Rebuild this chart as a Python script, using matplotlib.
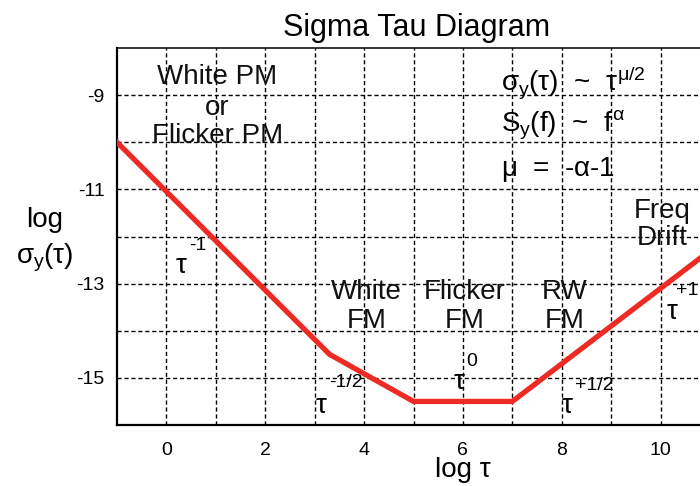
import numpy as np
import matplotlib
matplotlib.use("Agg")
import matplotlib.pyplot as plt

plt.rcParams['font.family'] = ['Liberation Sans', 'DejaVu Sans']
plt.rcParams['mathtext.fontset'] = 'custom'
plt.rcParams['mathtext.rm'] = 'Liberation Sans'
plt.rcParams['mathtext.it'] = 'Liberation Sans'
plt.rcParams['mathtext.bf'] = 'Liberation Sans:bold'
plt.rcParams['axes.unicode_minus'] = False

# piecewise sigma-tau curve (log tau, log sigma)
curve_x = [-1, 3.3, 5, 7, 11]
curve_y = [-10, -14.5, -15.5, -15.5, -12.3]

x_ticks = [0, 2, 4, 6, 8, 10]
y_ticks = [-9, -11, -13, -15]

# noise region labels: (text, x, y)
region_labels = [
    ("White PM", 1.03, -8.62),
    ("or", 1.03, -9.27),
    ("Flicker PM", 1.03, -9.87),
    ("White", 4.05, -13.17),
    ("FM", 4.05, -13.79),
    ("Flicker", 6.03, -13.17),
    ("FM", 6.03, -13.79),
    ("RW", 8.06, -13.17),
    ("FM", 8.06, -13.79),
    ("Freq", 10.04, -11.45),
    ("Drift", 10.04, -12.04),
]

# slope labels: (exponent, tau x, tau y, exp x, exp y)
slope_labels = [
    ("-1", 0.30, -12.62, 0.63, -12.19),
    ("-1/2", 3.12, -15.60, 3.64, -15.09),
    ("0", 5.93, -15.09, 6.17, -14.66),
    ("+1/2", 8.10, -15.60, 8.66, -15.17),
]
last_tau = ("+1", 10.24, -13.60, 10.32, -13.15)

formulas = [
    r"$\sigma_{y}(\tau)$  ~  $\tau^{\mu/2}$",
    r"$S_{y}(f)$  ~  $f^{\alpha}$",
    r"$\mu$  =  -$\alpha$-1",
]
formula_y = [-8.9, -9.77, -10.72]

fig = plt.figure(figsize=(7, 4.86), dpi=100)
ax = fig.add_axes([117 / 700, 61 / 486, 593 / 700, 377 / 486])

ax.plot(curve_x, curve_y, color='#ee2a24', lw=3.8, solid_joinstyle='miter', zorder=3)

ax.set_xlim(-1, 11)
ax.set_ylim(-16, -8)
ax.set_xticks(x_ticks)
ax.set_yticks(y_ticks)
ax.set_xticks(np.arange(1, 11, 2), minor=True)
ax.set_yticks(np.arange(-14, -8, 2), minor=True)
ax.tick_params(which='both', length=0)
ax.tick_params(axis='x', labelsize=14, pad=12)
ax.tick_params(axis='y', labelsize=14, pad=9)
ax.grid(which='both', color='black', linestyle=(0, (3, 2)), lw=1.0)

ax.spines['left'].set_linewidth(1.6)
ax.spines['bottom'].set_linewidth(1.6)
ax.spines['top'].set_linewidth(1.1)
ax.spines['right'].set_linewidth(1.1)

for txt, x, y in region_labels:
    ax.text(x, y, txt, fontsize=20, ha='center', va='center', color='#111111')

for ex, tx, ty, exx, exy in slope_labels:
    ax.text(tx, ty, "\u03c4", fontsize=20, ha='center', va='center')
    ax.text(exx, exy, ex, fontsize=14, ha='center', va='center')

ex, tx, ty, exx, exy = last_tau
ax.text(tx, ty, "\u03c4", fontsize=20, ha='center', va='center')
ax.text(exx, exy, ex, fontsize=14, ha='left', va='center')

for f, fy in zip(formulas, formula_y):
    ax.text(6.78, fy, f, fontsize=20, ha='left', va='baseline')

fig.text(417 / 700, 1 - 28 / 486, "Sigma Tau Diagram", fontsize=22, ha='center', va='center')
fig.text(463 / 700, 1 - 470 / 486, "log \u03c4", fontsize=20, ha='center', va='center')
fig.text(45 / 700, 1 - 220 / 486, "log", fontsize=20, ha='center', va='center')
fig.text(45 / 700, 1 - 258 / 486, r"$\sigma_{y}(\tau)$", fontsize=20, ha='center', va='center')

fig.savefig("out.png", dpi=100)
